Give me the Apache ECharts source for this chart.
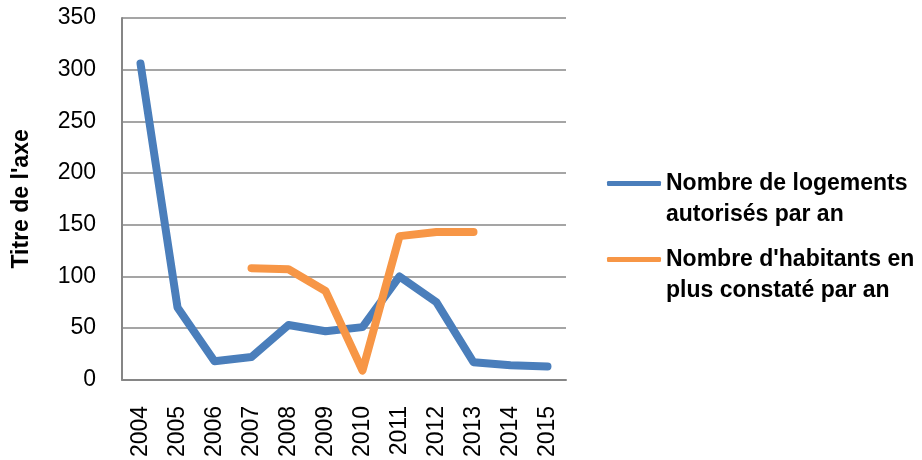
<!DOCTYPE html>
<html>
<head>
<meta charset="utf-8">
<script src="https://cdn.jsdelivr.net/npm/echarts@6/dist/echarts.min.js"></script>
<style>
  html, body { margin: 0; padding: 0; background: #fff; }
  #chart { width: 922px; height: 460px; }
</style>
</head>
<body>
<div id="chart"></div>
<script>
// Années
const years = ['2004', '2005', '2006', '2007', '2008', '2009', '2010', '2011', '2012', '2013', '2014', '2015'];
// Nombre de logements autorisés par an
const logements = [306, 70, 18, 22, 53, 47, 51, 100, 75, 17, 14, 13];
// Nombre d'habitants en plus constaté par an (pas de données avant 2007 ni après 2013)
const habitants = [null, null, null, 108, 107, 86, 9, 139, 143, 143, null, null];

const seriesNames = ['Nombre de logements\nautorisés par an', "Nombre d'habitants en\nplus constaté par an"];
const colors = ['#4A7EBB', '#F79646'];

const chart = echarts.init(document.getElementById('chart'));
chart.setOption({
  animation: false,
  color: colors,
  grid: { left: 122, right: 356, top: 18, bottom: 79 },
  legend: {
    orient: 'vertical',
    left: 607,
    top: 137,
    padding: 0,
    itemGap: -17,
    itemWidth: 54,
    itemHeight: 5,
    icon: 'roundRect',
    // une ligne vide en tête : la première ligne du libellé se cale sur le trait
    formatter: name => '\n' + name,
    textStyle: {
      fontFamily: 'Liberation Sans',
      fontWeight: 'bold',
      fontSize: 23,
      lineHeight: 31,
      color: '#000'
    },
    data: seriesNames
  },
  xAxis: {
    type: 'category',
    data: years,
    boundaryGap: true,
    axisLine: { lineStyle: { color: '#868686', width: 2 } },
    axisTick: { show: false },
    axisLabel: {
      rotate: 90,
      margin: 26,
      fontFamily: 'Liberation Sans',
      fontSize: 23,
      color: '#000'
    }
  },
  yAxis: {
    type: 'value',
    min: 0,
    max: 350,
    interval: 50,
    name: "Titre de l'axe",
    nameLocation: 'middle',
    nameGap: 89,
    nameTextStyle: {
      fontFamily: 'Liberation Sans',
      fontWeight: 'bold',
      fontSize: 23,
      color: '#000'
    },
    axisLine: { show: true, lineStyle: { color: '#868686', width: 2 } },
    axisTick: { show: false },
    splitLine: { lineStyle: { color: '#878787', width: 1.5 } },
    axisLabel: {
      margin: 26,
      fontFamily: 'Liberation Sans',
      fontSize: 23,
      color: '#000'
    }
  },
  series: [
    {
      name: seriesNames[0],
      type: 'line',
      data: logements,
      symbol: 'none',
      lineStyle: { width: 8, cap: 'round', join: 'round', color: colors[0] }
    },
    {
      name: seriesNames[1],
      type: 'line',
      data: habitants,
      symbol: 'none',
      connectNulls: false,
      lineStyle: { width: 8, cap: 'round', join: 'round', color: colors[1] }
    }
  ]
});
</script>
</body>
</html>
